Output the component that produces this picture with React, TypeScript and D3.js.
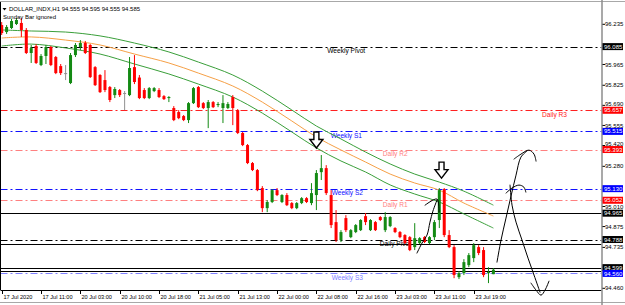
import React from 'react';
import * as d3 from 'd3';

// ---- candle data (H1 bars) ----
const opens = [
  96.230, 96.183, 96.210, 96.237, 96.244, 96.197, 96.042, 96.089, 95.961, 96.022,
  96.082, 96.015, 95.954, 95.907, 95.840, 96.028, 96.082, 96.109, 96.096, 95.947,
  95.894, 95.860, 95.813, 95.759, 95.793, 95.773, 95.759, 95.947, 95.877, 95.793,
  95.739, 95.786, 95.793, 95.752, 95.739, 95.672, 95.645, 95.618, 95.591, 95.705,
  95.813, 95.705, 95.672, 95.712, 95.692, 95.672, 95.672, 95.746, 95.658, 95.504,
  95.423, 95.302, 95.255, 95.134, 94.999, 95.040, 95.120, 95.040, 95.087, 95.033,
  94.999, 95.033, 95.066, 95.033, 95.087, 95.241, 95.268, 95.087, 94.905, 94.784,
  94.932, 94.804, 94.838, 94.851, 94.945, 94.851, 94.905, 94.939, 94.851, 94.878,
  94.865, 94.838, 94.818, 94.804, 94.737, 94.764, 94.804, 94.764, 94.804, 94.919,
  95.127, 94.818, 94.737, 94.535, 94.562, 94.616, 94.663, 94.737, 94.717, 94.562,
  94.555,
];
const highs = [
  96.250, 96.230, 96.271, 96.277, 96.277, 96.210, 96.096, 96.102, 96.035, 96.096,
  96.089, 96.022, 95.968, 95.961, 96.042, 96.109, 96.129, 96.123, 96.102, 95.954,
  95.900, 95.927, 95.820, 95.813, 95.800, 95.786, 96.015, 96.028, 95.894, 95.806,
  95.813, 95.813, 95.806, 95.759, 95.752, 95.685, 95.658, 95.625, 95.712, 95.813,
  95.820, 95.712, 95.726, 95.719, 95.712, 95.759, 95.712, 95.759, 95.665, 95.511,
  95.430, 95.309, 95.262, 95.147, 95.053, 95.127, 95.134, 95.093, 95.100, 95.040,
  95.040, 95.073, 95.073, 95.167, 95.255, 95.356, 95.288, 95.120, 94.986, 94.851,
  94.952, 94.858, 94.892, 94.925, 94.966, 94.925, 94.912, 94.945, 94.972, 94.945,
  94.871, 94.845, 94.824, 94.811, 94.898, 94.804, 94.811, 94.811, 94.919, 95.134,
  95.134, 94.851, 94.750, 94.576, 94.656, 94.697, 94.764, 94.750, 94.737, 94.602,
  94.595,
];
const lows = [
  96.163, 96.170, 96.203, 96.230, 96.150, 96.035, 95.975, 95.968, 95.954, 95.968,
  95.954, 95.900, 95.894, 95.860, 95.833, 96.015, 96.062, 96.035, 95.874, 95.820,
  95.773, 95.779, 95.712, 95.739, 95.746, 95.658, 95.752, 95.833, 95.732, 95.732,
  95.732, 95.779, 95.739, 95.726, 95.712, 95.584, 95.597, 95.584, 95.571, 95.699,
  95.672, 95.665, 95.537, 95.672, 95.678, 95.571, 95.665, 95.557, 95.497, 95.416,
  95.295, 95.248, 95.113, 94.972, 94.972, 95.033, 95.080, 95.033, 95.013, 94.992,
  94.992, 95.026, 95.033, 95.019, 94.986, 95.188, 95.087, 94.865, 94.771, 94.771,
  94.838, 94.797, 94.831, 94.845, 94.885, 94.845, 94.845, 94.912, 94.838, 94.871,
  94.831, 94.797, 94.757, 94.710, 94.717, 94.757, 94.764, 94.757, 94.784, 94.865,
  94.804, 94.730, 94.528, 94.522, 94.549, 94.602, 94.636, 94.683, 94.535, 94.495,
  94.555,
];
const closes = [
  96.176, 96.217, 96.257, 96.264, 96.197, 96.042, 96.075, 95.975, 96.022, 96.082,
  95.961, 95.907, 95.907, 95.907, 96.028, 96.096, 96.109, 96.042, 95.880, 95.826,
  95.779, 95.793, 95.726, 95.800, 95.759, 95.773, 95.941, 95.847, 95.739, 95.739,
  95.806, 95.806, 95.746, 95.732, 95.746, 95.591, 95.604, 95.591, 95.705, 95.806,
  95.678, 95.672, 95.712, 95.678, 95.699, 95.705, 95.699, 95.672, 95.504, 95.423,
  95.302, 95.255, 95.120, 94.999, 95.040, 95.120, 95.087, 95.087, 95.019, 94.999,
  95.033, 95.066, 95.040, 95.100, 95.235, 95.268, 95.100, 94.885, 94.784, 94.838,
  94.851, 94.851, 94.885, 94.919, 94.905, 94.919, 94.851, 94.919, 94.939, 94.939,
  94.838, 94.804, 94.764, 94.717, 94.797, 94.797, 94.771, 94.804, 94.905, 95.120,
  94.818, 94.737, 94.549, 94.562, 94.636, 94.683, 94.750, 94.697, 94.549, 94.569,
  94.585,
];

// ---- moving-average envelope (sampled at bar indices) ----
const maBars = [0, 6, 13, 20, 27, 34, 40, 47, 53, 59, 64, 69, 74, 79, 84, 89, 94, 100];
const maUpper = [96.197, 96.190, 96.183, 96.157, 96.109, 96.049, 95.981, 95.894, 95.786, 95.659, 95.551, 95.464, 95.376, 95.296, 95.228, 95.174, 95.113, 95.019];
const maMiddle = [96.143, 96.150, 96.129, 96.096, 96.035, 95.975, 95.907, 95.820, 95.712, 95.585, 95.477, 95.390, 95.309, 95.228, 95.168, 95.120, 95.033, 94.946];
const maLower = [96.089, 96.102, 96.076, 96.035, 95.968, 95.901, 95.833, 95.746, 95.638, 95.511, 95.404, 95.316, 95.242, 95.155, 95.094, 95.040, 94.960, 94.865];

// ---- axes ----
const timeLabels = ['17 Jul 2020', '17 Jul 11:00', '20 Jul 03:00', '20 Jul 10:00', '20 Jul 18:00', '21 Jul 05:00', '21 Jul 13:00', '22 Jul 00:00', '22 Jul 08:00', '22 Jul 16:00', '23 Jul 03:00', '23 Jul 11:00', '23 Jul 19:00'];
const timeLabelBars = [0, 8, 16, 24, 32, 40, 48, 56, 64, 72, 80, 88, 96];
const priceTicks = [96.235, 95.965, 95.825, 95.690, 95.555, 95.420, 95.280, 95.010, 94.875, 94.735, 94.460];

// ---- pivot levels ----
const levelNames = ['Weekly Pivot', 'Daily R3', 'Weekly S1', 'Daily R2', 'Weekly S2', 'Daily R1', 'Daily Pivot', 'Weekly S3'];
const levelValues = [96.085, 95.657, 95.515, 95.393, 95.130, 95.052, 94.788, 94.560];
const levelColors = ['#000000', '#ff2020', '#1010ff', '#ff8080', '#1010ff', '#ff8080', '#000000', '#8080ff'];
const levelLabelBars = [66.2, 109.9, 66.9, 77.5, 67.1, 77.5, 76.9, 67.1];

const solidLevels = [94.965, 94.757, 94.599, 94.578];

const markerPrices = [96.085, 95.657, 95.515, 95.393, 95.130, 95.052, 94.965, 94.788, 94.599, 94.560];
const markerColors = ['#000000', '#ff0000', '#0000ff', '#ff0000', '#0000ff', '#ff0000', '#000000', '#000000', '#000000', '#0000ff'];

// ---- hand-drawn annotations ----
const arrowBars = [64.0, 89.45];
const arrowPrices = [95.403, 95.201];
const strokeBars = [
  [84.46, 85.48, 86.5, 87.1, 87.7, 88.53],
  [86.1, 88.53, 88.94],
  [100.73, 101.55, 102.56, 103.58, 104.6, 105.6, 106.83],
  [104.19, 105.6, 107.24, 108.26, 108.67],
  [102.56, 103.79, 105.2, 106.2, 106.6],
  [103.38, 103.79, 104.6, 105.82, 107.04, 108.26, 109.48],
  [107.65, 108.67, 109.68, 110.5, 111.3],
];
const strokePrices = [
  [94.697, 94.764, 94.818, 94.905, 94.979, 95.053],
  [95.019, 95.060, 94.972],
  [94.636, 94.784, 94.932, 95.080, 95.221, 95.342, 95.383],
  [95.329, 95.362, 95.389, 95.362, 95.315],
  [95.100, 95.134, 95.154, 95.140, 95.107],
  [95.154, 95.019, 94.905, 94.784, 94.663, 94.549, 94.434],
  [94.495, 94.448, 94.414, 94.448, 94.508],
];

const FONT = "'Liberation Sans', Arial, sans-serif";

export default function App() {
  const x = d3.scaleLinear().domain([0, 100]).range([1.7, 493.4]);
  const y = d3.scaleLinear().domain([94.46, 96.235]).range([288.3, 24.3]);
  const plotLeft = 0.5;
  const plotRight = 601.5;
  const plotBottom = 290;
  const boxH = 7;

  const maLine = d3
    .line<number>()
    .x((_, i) => x(maBars[i]))
    .y((v) => y(v))
    .curve(d3.curveCatmullRom);

  const handLine = (bars: number[]) =>
    d3
      .line<number>()
      .x((_, i) => x(bars[i]))
      .y((v) => y(v))
      .curve(d3.curveCatmullRom);

  // keep price-tick labels just clear of the coloured marker boxes
  const tickLabelY = (p: number) => {
    let ty = y(p);
    markerPrices.forEach((m) => {
      const my = y(m);
      const top = my - boxH / 2;
      const bottom = my + boxH / 2;
      if (ty <= my && ty + 2.4 > top) ty = top - 2.4;
      if (ty > my && ty - 2.4 < bottom) ty = bottom + 2.4;
    });
    return ty;
  };

  const bw = 3;

  return (
    <svg
      width={625}
      height={305}
      style={{ position: 'absolute', left: 0, top: 0, display: 'block' }}
      fontFamily={FONT}
    >
      <rect x={0} y={0} width={625} height={305} fill="#ffffff" />
      {/* window edges */}
      <line x1={0} x2={625} y1={1.5} y2={1.5} stroke="#a8a8a8" strokeWidth={1} />
      <line x1={0} x2={625} y1={302.5} y2={302.5} stroke="#a8a8a8" strokeWidth={1} />

      {/* pivot level lines */}
      {levelValues.map((v, i) => (
        <line
          key={'lv' + i}
          x1={plotLeft}
          x2={plotRight}
          y1={Math.round(y(v)) + 0.5}
          y2={Math.round(y(v)) + 0.5}
          stroke={levelColors[i]}
          strokeWidth={1}
          strokeDasharray="7,3,2,3"
        />
      ))}
      {solidLevels.map((v, i) => (
        <line
          key={'sl' + i}
          x1={plotLeft}
          x2={plotRight}
          y1={Math.round(y(v)) + 0.5}
          y2={Math.round(y(v)) + 0.5}
          stroke="#000000"
          strokeWidth={1}
        />
      ))}
      {levelNames.map((n, i) => (
        <text
          key={'ln' + i}
          x={x(levelLabelBars[i])}
          y={y(levelValues[i]) + 6.5}
          fontSize={6.6}
          fill={levelColors[i]}
        >
          {n}
        </text>
      ))}

      {/* moving average envelope */}
      <path d={maLine(maUpper) || ''} fill="none" stroke="#3a9f3a" strokeWidth={1} />
      <path d={maLine(maMiddle) || ''} fill="none" stroke="#f6a046" strokeWidth={1} />
      <path d={maLine(maLower) || ''} fill="none" stroke="#3a9f3a" strokeWidth={1} />

      {/* candles */}
      {opens.map((o, i) => {
        const c = closes[i];
        const h = highs[i];
        const l = lows[i];
        const cx = x(i);
        const doji = o === c;
        const col = doji ? '#909090' : c > o ? '#138a13' : '#ff0000';
        const top = y(Math.max(o, c));
        const bot = y(Math.min(o, c));
        return (
          <g key={'c' + i}>
            <line x1={cx} x2={cx} y1={y(h)} y2={y(l)} stroke={col} strokeWidth={1} />
            <rect
              x={cx - bw / 2}
              y={top}
              width={bw}
              height={Math.max(1, bot - top)}
              fill={col}
            />
          </g>
        );
      })}

      {/* hollow arrows */}
      {arrowBars.map((b, i) => {
        const ax = x(b);
        const ay = y(arrowPrices[i]);
        const d = `M${ax - 2.5},${ay - 16} h5 v7.5 h4 L${ax},${ay} L${ax - 6.5},${ay - 8.5} h4 Z`;
        return <path key={'ar' + i} d={d} fill="#ffffff" stroke="#000000" strokeWidth={1.4} strokeLinejoin="miter" />;
      })}

      {/* hand-drawn strokes */}
      {strokePrices.map((ps, i) => (
        <path
          key={'hs' + i}
          d={handLine(strokeBars[i])(ps) || ''}
          fill="none"
          stroke="#000000"
          strokeWidth={1}
          strokeLinecap="round"
          strokeLinejoin="round"
        />
      ))}

      {/* frame */}
      <line x1={plotLeft} x2={plotLeft} y1={2} y2={plotBottom} stroke="#000000" strokeWidth={1} />
      <line x1={plotLeft} x2={plotRight} y1={plotBottom + 0.5} y2={plotBottom + 0.5} stroke="#000000" strokeWidth={1} />
      <line x1={plotRight + 0.5} x2={plotRight + 0.5} y1={0} y2={305} stroke="#8c8c8c" strokeWidth={1.5} />

      {/* time axis */}
      {timeLabels.map((t, i) => {
        const tx = Math.round(x(timeLabelBars[i])) + 0.5;
        return (
          <g key={'t' + i}>
            <line x1={tx} x2={tx} y1={plotBottom} y2={plotBottom + 4} stroke="#000000" strokeWidth={1} />
            <text x={tx + 1} y={298.5} fontSize={5.6} fill="#000000">
              {t}
            </text>
          </g>
        );
      })}

      {/* price axis */}
      {priceTicks.map((p, i) => (
        <g key={'p' + i}>
          <line x1={plotRight + 1} x2={plotRight + 3.5} y1={y(p)} y2={y(p)} stroke="#000000" strokeWidth={1} />
          <text x={605} y={tickLabelY(p)} dy="0.35em" fontSize={6} fill="#000000">
            {p.toFixed(3)}
          </text>
        </g>
      ))}
      {markerPrices.map((p, i) => (
        <g key={'m' + i}>
          <rect x={602.5} y={y(p) - boxH / 2} width={20.5} height={boxH} fill={markerColors[i]} />
          <text x={604} y={y(p)} dy="0.35em" fontSize={6} fill="#ffffff">
            {p.toFixed(3)}
          </text>
        </g>
      ))}

      {/* title */}
      <path d="M2.5,8 L6.5,8 L4.5,10.5 Z" fill="#000000" />
      <text x={9} y={11} fontSize={6} fill="#000000">
        DOLLAR_INDX,H1 94.555 94.595 94.555 94.585
      </text>
      <text x={3} y={18.5} fontSize={6} fill="#000000">
        Sunday Bar ignored
      </text>
    </svg>
  );
}
